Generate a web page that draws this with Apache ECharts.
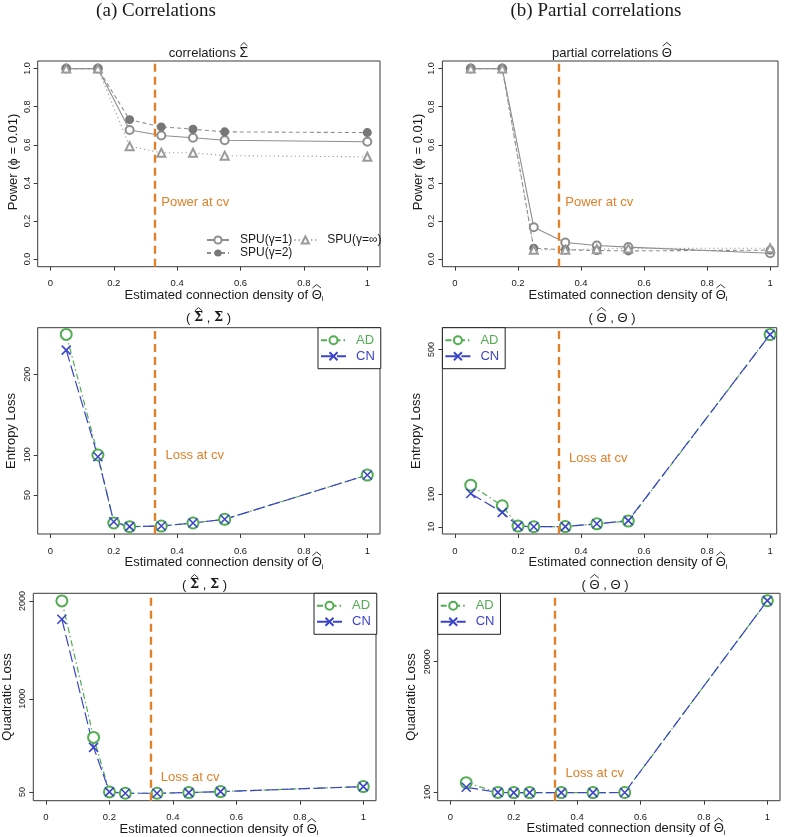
<!DOCTYPE html>
<html><head><meta charset="utf-8">
<script src="https://cdn.jsdelivr.net/npm/echarts@6/dist/echarts.min.js"></script>
<style>html,body{margin:0;padding:0;background:#fff}#c{width:785px;height:837px}</style>
</head><body><div id="c"></div>
<script>
// ---------- data ----------
const powerX = [0.05, 0.15, 0.25, 0.35, 0.45, 0.55, 1.0];
const corrSPU1 = [1.0, 1.0, 0.678, 0.649, 0.637, 0.624, 0.616];
const corrSPU2 = [1.0, 1.0, 0.732, 0.694, 0.682, 0.668, 0.664];
const corrSPUinf = [1.0, 1.0, 0.593, 0.558, 0.558, 0.543, 0.537];
const pcorSPU1 = [1.0, 1.0, 0.167, 0.087, 0.071, 0.063, 0.031];
const pcorSPU2 = [1.0, 1.0, 0.057, 0.049, 0.045, 0.043, 0.047];
const pcorSPUinf = [1.0, 1.0, 0.049, 0.049, 0.052, 0.056, 0.057];
const lossX = [0.05, 0.15, 0.2, 0.25, 0.35, 0.45, 0.55, 1.0];
const entCorrAD = [249.7, 99.7, 15.2, 10.6, 11.4, 15.2, 19.8, 74.8];
const entCorrCN = [230.1, 97.6, 16.8, 10.6, 11.4, 15.2, 19.8, 74.8];
const entPcorAD = [125, 68, 11.9, 10, 10.5, 18.2, 25.7, 541];
const entPcorCN = [102, 49.7, 11.9, 10, 10.5, 18.2, 27, 541];
const quadCorrAD = [2000, 606, 50, 36, 36, 43, 53, 104];
const quadCorrCN = [1813, 505, 50, 36, 36, 43, 53, 104];
const quadPcorAD = [1563, 80, 60, 60, 60, 60, 70, 29300];
const quadPcorCN = [862, 80, 60, 60, 60, 60, 70, 29300];
const cvDensity = 0.33;
const xTicks = [0, 0.2, 0.4, 0.6, 0.8, 1];
const powerTicks = [0, 0.2, 0.4, 0.6, 0.8, 1.0];
const entCorrTicks = [50, 100, 200];
const entPcorTicks = [10, 100, 500];
const quadCorrTicks = [50, 1000, 2000];
const quadPcorTicks = [100, 20000];

// ---------- style ----------
const GREEN = '#52ad52', BLUE = '#3b45c9', ORANGE = '#e0812a', GRAYL = '#8e8e8e', GRAYD = '#777777';
const FONT = '"Liberation Sans", Arial, sans-serif';
const DJS = '"DejaVu Serif", serif';
const SERIF = '"Liberation Serif", serif';
const TXT = '#1a1a1a';

const zip = (xs, ys) => xs.map((x, i) => [x, ys[i]]);

const panels = [
  {grid: {left: 37.7, top: 61, width: 342.3, height: 205.7}, xmax: 1.04, ymin: -0.04, ymax: 1.04, yTicks: powerTicks, yFmt: v => v.toFixed(1), note: 'Power at cv', noteAt: [0.35, 0.3]},
  {grid: {left: 442.4, top: 61, width: 335.6, height: 205.7}, xmax: 1.025, ymin: -0.04, ymax: 1.04, yTicks: powerTicks, yFmt: v => v.toFixed(1), note: 'Power at cv', noteAt: [0.35, 0.3]},
  {grid: {left: 37.7, top: 327.7, width: 342.3, height: 206.3}, xmax: 1.04, ymin: 1.5, ymax: 258, yTicks: entCorrTicks, yFmt: v => String(v), note: 'Loss at cv', noteAt: [0.363, 99]},
  {grid: {left: 442.4, top: 327.7, width: 334.3, height: 206.3}, xmax: 1.021, ymin: -10, ymax: 560, yTicks: entPcorTicks, yFmt: v => String(v), note: 'Loss at cv', noteAt: [0.362, 199]},
  {grid: {left: 33.3, top: 593.3, width: 342.7, height: 207.4}, xmax: 1.04, ymin: -40, ymax: 2078, yTicks: quadCorrTicks, yFmt: v => String(v), note: 'Loss at cv', noteAt: [0.362, 199]},
  {grid: {left: 437.7, top: 593.3, width: 342.3, height: 207.4}, xmax: 1.04, ymin: -1180, ymax: 30420, yTicks: quadPcorTicks, yFmt: v => String(v), note: 'Loss at cv', noteAt: [0.363, 3000]}
];

const grids = panels.map(p => Object.assign({show: true, borderColor: '#3a3a3a', borderWidth: 1, backgroundColor: 'transparent', containLabel: false}, p.grid));
const xAxes = panels.map((p, i) => ({
  gridIndex: i, type: 'value', min: -0.04, max: p.xmax,
  axisLine: {show: false, onZero: false},
  axisTick: {show: true, inside: false, length: 4, customValues: xTicks, lineStyle: {color: '#3a3a3a', width: 1}},
  axisLabel: {show: true, customValues: xTicks, fontSize: 9.5, margin: 12, color: TXT, fontFamily: FONT, formatter: v => String(v)},
  splitLine: {show: false}
}));
const yAxes = panels.map((p, i) => ({
  gridIndex: i, type: 'value', min: p.ymin, max: p.ymax,
  axisLine: {show: false, onZero: false},
  axisTick: {show: true, inside: false, length: 4, customValues: p.yTicks, lineStyle: {color: '#3a3a3a', width: 1}},
  axisLabel: {show: true, customValues: p.yTicks, rotate: 90, fontSize: 9, margin: 6, color: TXT, fontFamily: FONT, formatter: p.yFmt},
  splitLine: {show: false}
}));

function cvMarks(i) {
  const p = panels[i];
  return {
    markLine: {silent: true, symbol: ['none', 'none'], label: {show: false}, animation: false,
      lineStyle: {color: ORANGE, type: [8, 5], width: 2.4}, data: [{xAxis: cvDensity}]},
    markPoint: {silent: true, symbol: 'circle', symbolSize: 0, animation: false,
      data: [{coord: p.noteAt}],
      label: {show: true, position: 'right', distance: 0, formatter: p.note, color: ORANGE, fontSize: 13, fontFamily: FONT}}
  };
}

function powerSeries(i, s1, s2, sinf) {
  const base = {type: 'line', xAxisIndex: i, yAxisIndex: i, animation: false, silent: true};
  return [
    Object.assign({}, base, {name: 'SPU(γ=1)', data: zip(powerX, s1), symbol: 'emptyCircle', symbolSize: 8,
      lineStyle: {color: GRAYL, width: 1.1, type: 'solid'}, itemStyle: {color: GRAYL, borderWidth: 1}}, cvMarks(i)),
    Object.assign({}, base, {name: 'SPU(γ=2)', data: zip(powerX, s2), symbol: 'circle', symbolSize: 9,
      lineStyle: {color: GRAYL, width: 1.1, type: [4, 3]}, itemStyle: {color: GRAYD}}),
    Object.assign({}, base, {name: 'SPU(γ=∞)', data: zip(powerX, sinf), symbol: 'emptyTriangle', symbolSize: 8,
      lineStyle: {color: '#9a9a9a', width: 1.1, type: [1.2, 3]}, itemStyle: {color: '#9a9a9a', borderWidth: 1}})
  ];
}
const XPATH = 'path://M0,0L10,10M0,10L10,0';
function lossSeries(i, ad, cn) {
  const base = {type: 'line', xAxisIndex: i, yAxisIndex: i, animation: false, silent: true};
  return [
    Object.assign({}, base, {name: 'AD', data: zip(lossX, ad), symbol: 'emptyCircle', symbolSize: 11,
      lineStyle: {color: GREEN, width: 1.2, type: [6, 3, 1.5, 3]}, itemStyle: {color: GREEN, borderWidth: 1.5}}, cvMarks(i)),
    Object.assign({}, base, {name: 'CN', data: zip(lossX, cn), symbol: XPATH, symbolSize: 9,
      lineStyle: {color: BLUE, width: 1.2, type: [12, 4]}, itemStyle: {color: BLUE, borderColor: BLUE, borderWidth: 1.6}})
  ];
}

const series = [].concat(
  powerSeries(0, corrSPU1, corrSPU2, corrSPUinf),
  powerSeries(1, pcorSPU1, pcorSPU2, pcorSPUinf),
  lossSeries(2, entCorrAD, entCorrCN),
  lossSeries(3, entPcorAD, entPcorCN),
  lossSeries(4, quadCorrAD, quadCorrCN),
  lossSeries(5, quadPcorAD, quadPcorCN)
);

function lossLegend(left, top) {
  return {left, top, orient: 'vertical', padding: [6, 6, 6, 2], itemWidth: 25, itemHeight: 10, itemGap: 3,
    borderColor: '#222', borderWidth: 1, backgroundColor: '#fff', selectedMode: false,
    textStyle: {fontSize: 13, fontFamily: FONT, padding: [0, 0, 0, 5]},
    data: [{name: 'AD', textStyle: {color: GREEN}}, {name: 'CN', textStyle: {color: BLUE}}]};
}
const legends = [
  {left: 206, top: 234, width: 180, padding: 0, itemWidth: 22, itemHeight: 9, itemGap: 1, selectedMode: false,
    textStyle: {fontSize: 12, lineHeight: 12, fontFamily: FONT, color: TXT, padding: [0, 0, 0, 6]},
    data: ['SPU(γ=1)', 'SPU(γ=∞)', 'SPU(γ=2)']},
  lossLegend(318, 327.7),
  lossLegend(442.4, 327.7),
  lossLegend(314, 593.3),
  lossLegend(437.7, 593.3)
];

// ---------- text (math expressions with wide hats) ----------
const mctx = document.createElement('canvas').getContext('2d');
function measure(text, font) { mctx.font = font; return mctx.measureText(text).width; }
function expr(cx, cy, parts) {
  const els = [];
  const widths = parts.map(p => measure(p.text, p.font));
  const total = widths.reduce((a, b) => a + b, 0);
  let x = cx - total / 2;
  parts.forEach((p, k) => {
    els.push({type: 'text', x, y: cy + (p.dy || 0), silent: true,
      style: {text: p.text, font: p.font, fill: TXT, align: 'left', verticalAlign: 'middle'}});
    if (p.hat) {
      const w = widths[k];
      const b = cy - p.hat;
      els.push({type: 'polyline', silent: true,
        shape: {points: [[x + 0.8, b], [x + w / 2, b - 3.5], [x + w - 0.8, b]]},
        style: {stroke: TXT, lineWidth: 0.9, fill: null}});
    }
    x += widths[k];
  });
  return els;
}
function t(x, y, text, font, rotation) {
  const el = {type: 'text', x, y, silent: true,
    style: {text, align: 'center', verticalAlign: 'middle', font: font || ('13px ' + FONT), fill: TXT}};
  if (rotation !== undefined) el.rotation = rotation;
  return el;
}
const F13 = '13px ' + FONT;
const xNameParts = [
  {text: 'Estimated connection density of ', font: F13},
  {text: 'Θ', font: F13, hat: 7},
  {text: 'i', font: '8px ' + FONT, dy: 4}
];
const sigT = '14px ' + FONT;
const sigB = 'bold 13px ' + DJS;
const R = Math.PI / 2;
const graphics = [].concat(
  [t(156, 11, '(a) Correlations', '19px ' + SERIF), t(596, 11, '(b) Partial correlations', '19px ' + SERIF)],
  expr(208.5, 53, [{text: 'correlations ', font: F13}, {text: 'Σ', font: sigT, hat: 7}]),
  expr(612, 53, [{text: 'partial correlations ', font: F13}, {text: 'Θ', font: F13, hat: 7}]),
  expr(208.5, 318, [{text: '( ', font: F13}, {text: 'Σ', font: sigB, hat: 7}, {text: ' , ', font: F13}, {text: 'Σ', font: sigB}, {text: ' )', font: F13}]),
  expr(612, 318, [{text: '( ', font: F13}, {text: 'Θ', font: F13, hat: 7}, {text: ' , ', font: F13}, {text: 'Θ', font: F13}, {text: ' )', font: F13}]),
  expr(204.5, 585, [{text: '( ', font: F13}, {text: 'Σ', font: sigB, hat: 7}, {text: ' , ', font: F13}, {text: 'Σ', font: sigB}, {text: ' )', font: F13}]),
  expr(605, 585, [{text: '( ', font: F13}, {text: 'Θ', font: F13, hat: 7}, {text: ' , ', font: F13}, {text: 'Θ', font: F13}, {text: ' )', font: F13}]),
  expr(224, 295, xNameParts),
  expr(628, 295, xNameParts),
  expr(224, 562.5, xNameParts),
  expr(628, 562.5, xNameParts),
  expr(219, 829, xNameParts),
  expr(626, 828.5, xNameParts),
  [
    t(13.3, 162, 'Power (ϕ = 0.01)', F13, R),
    t(418.3, 162, 'Power (ϕ = 0.01)', F13, R),
    t(11.7, 431, 'Entropy Loss', F13, R),
    t(416.7, 431, 'Entropy Loss', F13, R),
    t(7, 697, 'Quadratic Loss', F13, R),
    t(411.7, 697, 'Quadratic Loss', F13, R)
  ]
);

const chart = echarts.init(document.getElementById('c'), null, {renderer: 'canvas'});
chart.setOption({
  animation: false,
  backgroundColor: '#fff',
  grid: grids, xAxis: xAxes, yAxis: yAxes, series, legend: legends, graphic: graphics
});
</script></body></html>
